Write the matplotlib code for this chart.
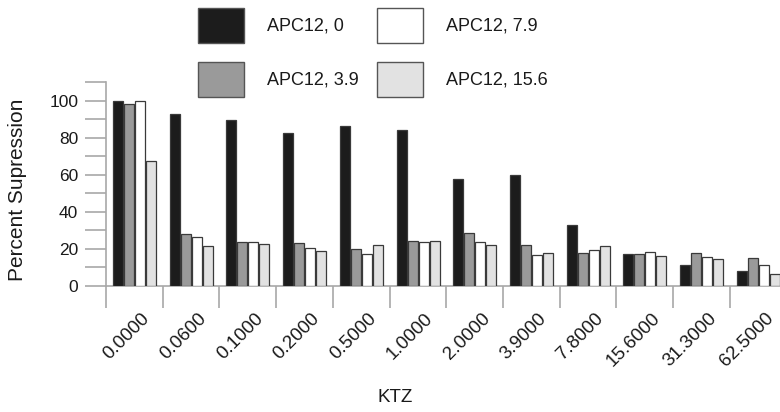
import matplotlib
matplotlib.use("Agg")
import matplotlib.pyplot as plt
import matplotlib.transforms as mtransforms
from matplotlib.patches import Rectangle
import numpy as np

plt.rcParams.update({
    "font.family": ["Liberation Sans", "DejaVu Sans"],
    "text.color": "#1a1a1a",
})

ktz_labels = ["0.0000", "0.0600", "0.1000", "0.2000", "0.5000", "1.0000",
              "2.0000", "3.9000", "7.8000", "15.6000", "31.3000", "62.5000"]

apc_0 = [100, 93, 89.4, 82.7, 86.3, 84, 57.6, 60.1, 32.7, 17.4, 11.1, 8.3]
apc_3_9 = [98, 28.2, 23.7, 23.3, 20.1, 24, 28.5, 22, 17.6, 17.4, 18, 15.1]
apc_7_9 = [100, 26.4, 23.5, 20.5, 17.2, 23.9, 23.5, 16.7, 19.4, 18.5, 15.6, 11.1]
apc_15_6 = [67.5, 21.5, 22.6, 19, 22, 24.4, 21.9, 18, 21.7, 16.2, 14.5, 6.5]

series = [
    ("APC12, 0", apc_0, "#1c1c1c"),
    ("APC12, 3.9", apc_3_9, "#9a9a9a"),
    ("APC12, 7.9", apc_7_9, "#ffffff"),
    ("APC12, 15.6", apc_15_6, "#e2e2e2"),
]

W, H = 780, 412
fig = plt.figure(figsize=(W / 100, H / 100), dpi=100)
# axes: left spine at x=106px, zero at y=286px, 110 at y=82px
ax = fig.add_axes([106 / W, (H - 286) / H, (W - 106) / W, 204 / H])

grp = 56.7  # px per group
bar_w = 10 / grp
step = 11 / grp
x0 = 7 / grp
idx = np.arange(len(ktz_labels))
for k, (name, vals, col) in enumerate(series):
    ax.bar(idx + x0 + k * step, vals, width=bar_w, align="edge",
           color=col, edgecolor="#3a3a3a", linewidth=0.9, zorder=3)

ax.set_xlim(0, (W - 106) / grp)
ax.set_ylim(0, 110)

for s in ["top", "right"]:
    ax.spines[s].set_visible(False)
ax.spines["left"].set_color("#a8a8a8")
ax.spines["bottom"].set_color("#a8a8a8")
ax.spines["left"].set_linewidth(1.2)
ax.spines["bottom"].set_linewidth(1.2)

ax.set_yticks(np.arange(0, 111, 10))
ax.set_yticklabels([str(v) if v % 20 == 0 and v <= 100 else "" for v in range(0, 111, 10)])
ax.tick_params(axis="y", length=15, width=1.2, color="#a8a8a8", pad=5,
               labelsize=12.5, labelcolor="#1a1a1a")

ax.set_xticks(idx)
ax.set_xticklabels([])
ax.tick_params(axis="x", length=15.5, width=1.2, color="#a8a8a8")

trans = mtransforms.blended_transform_factory(ax.transData, ax.transAxes)
for i, lab in enumerate(ktz_labels):
    ax.text(i + 35 / grp, -24 / 204, lab, transform=trans, rotation=45,
            rotation_mode="anchor", ha="right", va="top", fontsize=13.5,
            clip_on=False)

fig.text(18 / W, 1 - 190 / H, "Percent Supression", rotation=90,
         ha="center", va="center", fontsize=15)
fig.text(395 / W, 1 - 398 / H, "KTZ", ha="center", va="center", fontsize=13.5)

# legend, two columns
legend_pos = [(198, 8), (198, 62), (377, 8), (377, 62)]
for (name, vals, col), (lx, ly) in zip(series, legend_pos):
    fig.add_artist(Rectangle((lx / W, 1 - (ly + 35) / H), 46 / W, 35 / H,
                             transform=fig.transFigure, facecolor=col,
                             edgecolor="#555555", linewidth=1))
    fig.text((lx + 69) / W, 1 - (ly + 18) / H, name, ha="left", va="center",
             fontsize=13)

fig.savefig("out.png", dpi=100)
